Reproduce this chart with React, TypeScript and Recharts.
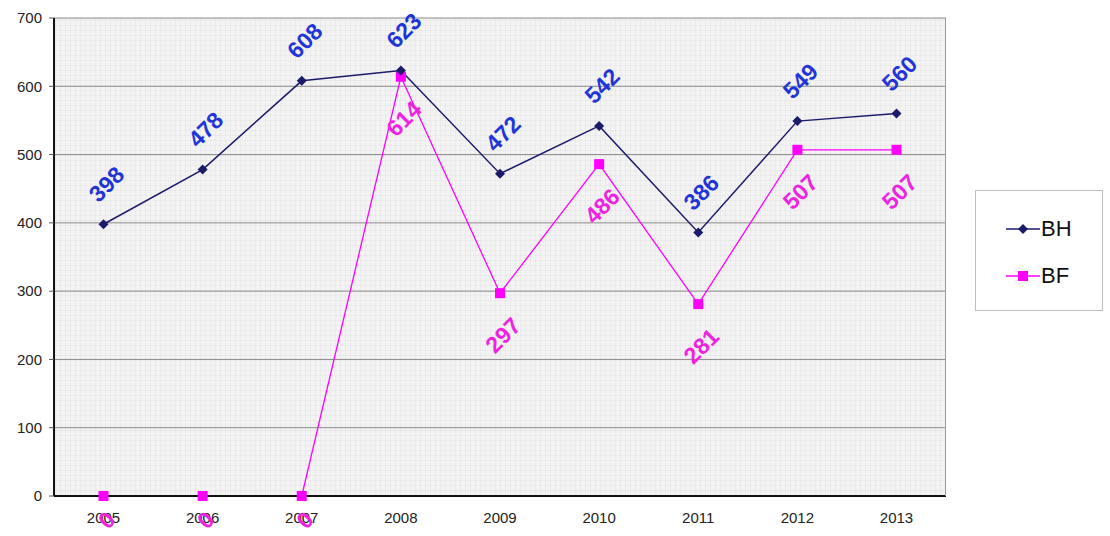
import React from 'react';
import { LineChart, Line, XAxis, YAxis, CartesianGrid, LabelList } from 'recharts';

const years = ['2005', '2006', '2007', '2008', '2009', '2010', '2011', '2012', '2013'];
const bhValues = [398, 478, 608, 623, 472, 542, 386, 549, 560];
const bfValues = [0, 0, 0, 614, 297, 486, 281, 507, 507];
const yTicks = [0, 100, 200, 300, 400, 500, 600, 700];

const BH_COLOR = '#1c1a6b';
const BF_COLOR = '#ff00ff';
const BH_LABEL = '#1f35d8';
const BF_LABEL = '#ee22e0';

const data = years.map((y, i) => ({ year: y, BH: bhValues[i], BF: bfValues[i] }));

// diamond marker for BH
const Diamond = (props: any) => {
  const { cx, cy } = props;
  if (cx == null || cy == null) return null;
  return <polygon points={`${cx},${cy - 5} ${cx + 5},${cy} ${cx},${cy + 5} ${cx - 5},${cy}`} fill={BH_COLOR} />;
};

// square marker for BF
const Square = (props: any) => {
  const { cx, cy } = props;
  if (cx == null || cy == null) return null;
  return <rect x={cx - 5} y={cy - 5} width={10} height={10} fill={BF_COLOR} />;
};

// rotated value labels, like the old excel look
const makeLabel = (color: string, dy: number) => (props: any) => {
  const { x, y, value } = props;
  if (x == null || y == null) return null;
  const lx = x + 3;
  // zero labels sit at the very bottom, pull them up so they stay inside
  const ly = value === 0 ? y + 24 : y + dy;
  return (
    <text
      x={lx}
      y={ly}
      fill={color}
      fontSize={23}
      fontWeight="bold"
      fontFamily="Liberation Sans, Arial, sans-serif"
      textAnchor="middle"
      dominantBaseline="central"
      transform={`rotate(-45 ${lx} ${ly})`}
    >
      {value}
    </text>
  );
};

const LegendBox = () => (
  <div
    style={{
      position: 'absolute',
      left: 975,
      top: 190,
      width: 128,
      height: 121,
      border: '1px solid #bdbdbd',
      background: '#fff',
      fontFamily: 'Liberation Sans, Arial, sans-serif',
      fontSize: 22,
      color: '#111',
      boxSizing: 'border-box',
    }}
  >
    <div style={{ position: 'absolute', left: 30, top: 25, display: 'flex', alignItems: 'center' }}>
      <svg width={34} height={14}>
        <line x1={0} y1={7} x2={34} y2={7} stroke={BH_COLOR} strokeWidth={1.5} />
        <polygon points="17,2 22,7 17,12 12,7" fill={BH_COLOR} />
      </svg>
      <span style={{ marginLeft: 1 }}>BH</span>
    </div>
    <div style={{ position: 'absolute', left: 30, top: 72, display: 'flex', alignItems: 'center' }}>
      <svg width={34} height={14}>
        <line x1={0} y1={7} x2={34} y2={7} stroke={BF_COLOR} strokeWidth={1.5} />
        <rect x={12} y={2} width={10} height={10} fill={BF_COLOR} />
      </svg>
      <span style={{ marginLeft: 1 }}>BF</span>
    </div>
  </div>
);

export default function App() {
  return (
    <div style={{ position: 'absolute', left: 0, top: 0, width: 1110, height: 536, background: '#fff' }}>
      <LineChart
        width={1110}
        height={536}
        data={data}
        margin={{ top: 18, right: 164, bottom: 0, left: 0 }}
      >
        <defs>
          <pattern id="bgGrid" width={5} height={5} patternUnits="userSpaceOnUse">
            <rect width={5} height={5} fill="#f3f3f3" />
            <path d="M5 0 L0 0 L0 5" fill="none" stroke="#dcdcdc" strokeWidth={0.7} />
          </pattern>
        </defs>
        <CartesianGrid
          fill="url(#bgGrid)"
          vertical={false}
          stroke="#8a8a8a"
          strokeWidth={1}
        />
        <XAxis
          dataKey="year"
          height={40}
          padding={{ left: 49.5, right: 49.5 }}
          axisLine={{ stroke: '#111', strokeWidth: 2 }}
          tickLine={false}
          tick={{ fill: '#222', fontSize: 15, fontFamily: 'Liberation Sans, Arial, sans-serif' }}
          tickMargin={10}
        />
        <YAxis
          width={54}
          domain={[0, 700]}
          ticks={yTicks}
          interval={0}
          axisLine={{ stroke: '#111', strokeWidth: 2 }}
          tickLine={{ stroke: '#555' }}
          tickSize={5}
          tickMargin={7}
          tick={{ fill: '#222', fontSize: 15, fontFamily: 'Liberation Sans, Arial, sans-serif' }}
        />
        <Line
          dataKey="BF"
          stroke={BF_COLOR}
          strokeWidth={1.3}
          dot={<Square />}
          activeDot={false}
          isAnimationActive={false}
        >
          <LabelList dataKey="BF" content={makeLabel(BF_LABEL, 42)} />
        </Line>
        <Line
          dataKey="BH"
          stroke={BH_COLOR}
          strokeWidth={1.5}
          dot={<Diamond />}
          activeDot={false}
          isAnimationActive={false}
        >
          <LabelList dataKey="BH" content={makeLabel(BH_LABEL, -40)} />
        </Line>
      </LineChart>
      <div style={{ position: 'absolute', left: 945, top: 18, width: 1, height: 478, background: '#9a9a9a' }} />
      <LegendBox />
    </div>
  );
}
